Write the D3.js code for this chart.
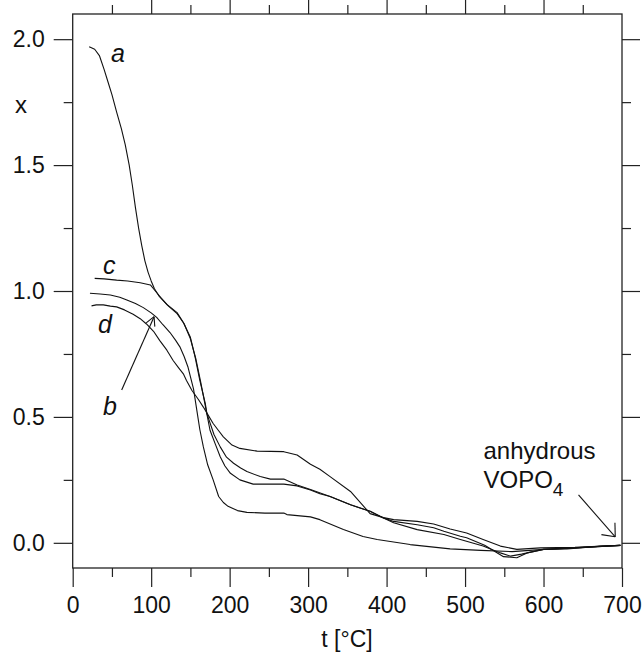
<!DOCTYPE html>
<html>
<head>
<meta charset="utf-8">
<script src="https://cdn.jsdelivr.net/npm/d3@7"></script>
<style>
  body { margin: 0; background: #fff; }
  svg { display: block; }
  text { font-family: "Liberation Sans", Arial, sans-serif; fill: #111; }
</style>
</head>
<body>
<div id="chart"></div>
<script>
// x(t) curves, [t in °C, x]
const curveA = [[21,1.97],[28,1.96],[34,1.935],[40,1.88],[45,1.83],[50,1.78],[56,1.71],[62,1.645],[67,1.58],[72,1.50],[76,1.42],[80,1.33],[84,1.25],[88,1.18],[92,1.12],[96,1.075],[100,1.04],[104,1.01],[110,0.98],[120,0.947],[133,0.914],[141,0.875],[150,0.816],[156,0.737],[162,0.645],[169,0.553],[171,0.513],[180,0.43],[188,0.381],[196,0.34],[205,0.316],[214,0.297],[222,0.283],[239,0.263],[252,0.253],[269,0.253],[286,0.23],[303,0.212],[328,0.184],[354,0.151],[379,0.125],[396,0.099],[409,0.085],[439,0.072],[460,0.06],[473,0.046],[494,0.026],[502,0.02],[525,-0.01],[549,-0.055],[566,-0.059],[579,-0.04],[600,-0.026],[630,-0.024],[673,-0.013],[698,-0.01]];
const curveB = [[22,0.991],[35,0.988],[48,0.984],[60,0.975],[69,0.964],[80,0.95],[90,0.934],[100,0.913],[107,0.895],[115,0.866],[124,0.835],[131,0.805],[137,0.776],[142,0.74],[147,0.697],[150,0.66],[154,0.61],[158,0.53],[162,0.45],[166.5,0.381],[172,0.31],[179,0.25],[186,0.184],[192,0.16],[198,0.145],[210,0.128],[222,0.121],[245,0.118],[269,0.118],[273,0.112],[303,0.103],[315,0.092],[345,0.0525],[370,0.025],[388,0.013],[430,-0.007],[481,-0.024],[520,-0.03],[560,-0.035],[600,-0.026],[650,-0.018],[698,-0.01]];
const curveC = [[28,1.05],[40,1.048],[56,1.043],[70,1.04],[86,1.033],[99,1.024],[104,1.005],[112,0.975],[121,0.943],[133,0.91],[142,0.87],[150,0.81],[157,0.73],[163,0.64],[168,0.56],[175,0.447],[182,0.39],[188,0.342],[194,0.305],[201,0.276],[213,0.25],[230,0.233],[269,0.233],[286,0.226],[303,0.21],[315,0.195],[328,0.184],[354,0.151],[379,0.125],[396,0.099],[409,0.08],[439,0.0525],[473,0.033],[494,0.013],[523,-0.013],[545,-0.04],[558,-0.053],[572,-0.045],[600,-0.026],[640,-0.02],[698,-0.01]];
const curveD = [[24,0.941],[30,0.945],[39,0.945],[48,0.94],[56,0.937],[66,0.925],[77,0.908],[86,0.89],[94,0.869],[103,0.84],[111,0.803],[120,0.765],[128,0.724],[135,0.695],[141,0.671],[145,0.645],[152,0.605],[160,0.57],[166.5,0.539],[173,0.505],[179,0.474],[186,0.445],[192,0.421],[203,0.388],[213,0.375],[235,0.364],[269,0.362],[286,0.349],[303,0.312],[315,0.292],[328,0.263],[354,0.204],[379,0.116],[396,0.1],[409,0.092],[439,0.085],[460,0.075],[481,0.055],[502,0.039],[523,0.013],[545,-0.013],[566,-0.026],[596,-0.02],[640,-0.018],[698,-0.01]];

const xMajor = [0, 100, 200, 300, 400, 500, 600, 700];
const xMinor = [50, 150, 250, 350, 450, 550, 650];
const yMajor = [0.0, 0.5, 1.0, 1.5, 2.0];
const yMinor = [0.25, 0.75, 1.25, 1.75];

// curve labels and arrows, in data coordinates
const curveLabels = [
    { text: 'a', t: 48.8, v: 1.909 },
    { text: 'c', t: 38.6, v: 1.067 },
    { text: 'd', t: 32.3, v: 0.833 },
    { text: 'b', t: 38.6, v: 0.508 }
];
const arrows = [
    { from: [62.4, 0.607], to: [103.7, 0.898], head: 10, spread: 28 },
    { from: [644.6, 0.19], to: [691.4, 0.024], head: 14, spread: 40 }
];

const W = 643, H = 652;
const L = 72.7, R = 622, T = 14, B = 568;

const svg = d3.select('#chart').append('svg')
    .attr('width', W)
    .attr('height', H);

const xScale = d3.scaleLinear().domain([0, 700]).range([L, R]);
const yScale = d3.scaleLinear().domain([-0.1, 2.1]).range([B, T]);

// Axes: bottom/left ticks outward, top/right ticks inward
const tickFmt = d3.format('.1f');
const axes = [
    { axis: d3.axisBottom(xScale).tickValues(xMajor).tickSize(19).tickPadding(10).tickFormat(d3.format('d')), pos: `translate(0,${B})` },
    { axis: d3.axisBottom(xScale).tickValues(xMinor).tickSize(9).tickFormat(''), pos: `translate(0,${B})` },
    { axis: d3.axisLeft(yScale).tickValues(yMajor).tickSize(19).tickPadding(9).tickFormat(tickFmt), pos: `translate(${L},0)` },
    { axis: d3.axisLeft(yScale).tickValues(yMinor).tickSize(9).tickFormat(''), pos: `translate(${L},0)` },
    { axis: d3.axisBottom(xScale).tickValues(xMajor.slice(1, -1)).tickSize(-18).tickFormat(''), pos: `translate(0,${T})` },
    { axis: d3.axisBottom(xScale).tickValues(xMinor).tickSize(-9).tickFormat(''), pos: `translate(0,${T})` },
    { axis: d3.axisLeft(yScale).tickValues(yMajor).tickSize(-18).tickFormat(''), pos: `translate(${R},0)` },
    { axis: d3.axisLeft(yScale).tickValues(yMinor).tickSize(-9).tickFormat(''), pos: `translate(${R},0)` }
];

axes.forEach(a => {
    const g = svg.append('g').attr('transform', a.pos).call(a.axis.tickSizeOuter(0));
    g.select('.domain').remove();
    g.selectAll('.tick line').attr('stroke', '#222').attr('stroke-width', 1.2);
    g.selectAll('.tick text')
        .style('font-size', '23px')
        .style('font-family', '"Liberation Sans", Arial, sans-serif')
        .attr('fill', '#111');
});

// Frame
svg.append('rect')
    .attr('x', L).attr('y', T)
    .attr('width', R - L).attr('height', B - T)
    .attr('fill', 'none')
    .attr('stroke', '#222')
    .attr('stroke-width', 1.3);

// Curves
const line = d3.line()
    .x(d => xScale(d[0]))
    .y(d => yScale(d[1]));

[curveA, curveB, curveC, curveD].forEach(c => {
    svg.append('path')
        .datum(c)
        .attr('d', line)
        .attr('fill', 'none')
        .attr('stroke', '#111')
        .attr('stroke-width', 1.1)
        .attr('stroke-linejoin', 'round');
});

// Curve labels
curveLabels.forEach(l => {
    svg.append('text')
        .attr('x', xScale(l.t))
        .attr('y', yScale(l.v))
        .style('font-size', '25px')
        .style('font-style', 'italic')
        .text(l.text);
});

// Arrows with open heads
arrows.forEach(a => {
    const x1 = xScale(a.from[0]), y1 = yScale(a.from[1]);
    const x2 = xScale(a.to[0]), y2 = yScale(a.to[1]);
    svg.append('line')
        .attr('x1', x1).attr('y1', y1).attr('x2', x2).attr('y2', y2)
        .attr('stroke', '#111').attr('stroke-width', 1.1);
    const back = Math.atan2(y1 - y2, x1 - x2);
    [-1, 1].forEach(s => {
        const ang = back + s * a.spread * Math.PI / 180;
        svg.append('line')
            .attr('x1', x2).attr('y1', y2)
            .attr('x2', x2 + a.head * Math.cos(ang))
            .attr('y2', y2 + a.head * Math.sin(ang))
            .attr('stroke', '#111').attr('stroke-width', 1.1);
    });
});

// Annotation: anhydrous VOPO4
svg.append('text')
    .attr('x', xScale(523.5))
    .attr('y', yScale(0.332))
    .style('font-size', '24px')
    .text('anhydrous');

const vopo = svg.append('text')
    .attr('x', xScale(523.5))
    .attr('y', yScale(0.2165))
    .style('font-size', '24px');
vopo.append('tspan').text('VOPO');
vopo.append('tspan').attr('dy', 8).style('font-size', '19px').text('4');

// Axis titles
svg.append('text')
    .attr('x', 21)
    .attr('y', 113)
    .attr('text-anchor', 'middle')
    .style('font-size', '24px')
    .text('x');

svg.append('text')
    .attr('x', 347)
    .attr('y', 647)
    .attr('text-anchor', 'middle')
    .style('font-size', '23px')
    .text('t [°C]');
</script>
</body>
</html>
